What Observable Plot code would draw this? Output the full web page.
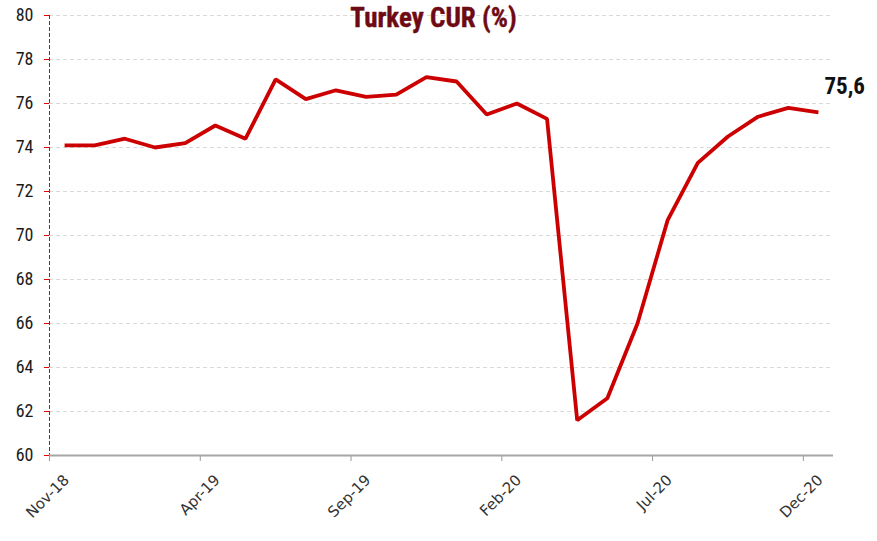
<!DOCTYPE html>
<html>
<head>
<meta charset="utf-8">
<script src="https://cdn.jsdelivr.net/npm/d3@7"></script>
<script src="https://cdn.jsdelivr.net/npm/@observablehq/plot@0.6"></script>
<style>
  html, body { margin: 0; padding: 0; background: #fff; }
  #chart { width: 877px; height: 541px; }
</style>
</head>
<body>
<div id="chart"></div>
<script>
const title = "Turkey CUR (%)";
const months = ["Nov-18","Dec-18","Jan-19","Feb-19","Mar-19","Apr-19","May-19","Jun-19","Jul-19","Aug-19","Sep-19","Oct-19","Nov-19","Dec-19","Jan-20","Feb-20","Mar-20","Apr-20","May-20","Jun-20","Jul-20","Aug-20","Sep-20","Oct-20","Nov-20","Dec-20"];
const values = [74.1, 74.1, 74.4, 74.0, 74.2, 75.0, 74.4, 77.1, 76.2, 76.6, 76.3, 76.4, 77.2, 77.0, 75.5, 76.0, 75.3, 61.6, 62.6, 66.0, 70.7, 73.3, 74.5, 75.4, 75.8, 75.6];
const tickLabels = ["Nov-18", "Apr-19", "Sep-19", "Feb-20", "Jul-20", "Dec-20"];
const yTicks = [60, 62, 64, 66, 68, 70, 72, 74, 76, 78, 80];
const lastLabel = "75,6";

const data = months.map((m, i) => ({month: m, idx: i, value: values[i]}));
const tickData = tickLabels.map(l => ({label: l, idx: months.indexOf(l)}));
const last = data[data.length - 1];

const narrow = "'Liberation Sans Narrow', 'Arial Narrow', 'Roboto Condensed', sans-serif";

const chart = Plot.plot({
  width: 877,
  height: 541,
  marginLeft: 49,
  marginRight: 44,
  marginTop: 15,
  marginBottom: 86,
  x: {type: "linear", domain: [0, months.length], axis: null},
  y: {domain: [60, 80], axis: null},
  style: {background: "#fff"},
  marks: [
    Plot.gridY(yTicks.filter(t => t > 60), {stroke: "#d9d9d9", strokeOpacity: 1, strokeDasharray: "4,3", strokeWidth: 1}),
    Plot.axisY({ticks: yTicks, tickSize: 5, tickPadding: 11, stroke: "#e00000", fill: "#1a1a1a",
      fontSize: 18, fontFamily: narrow, label: null}),
    Plot.ruleX([0], {stroke: "#e60000", strokeDasharray: "4,2", strokeWidth: 1}),
    Plot.axisX({ticks: tickData.map(d => d.idx), tickSize: 6, stroke: "#999", tickFormat: () => "", label: null}),
    Plot.ruleY([60], {stroke: "#a6a6a6", strokeWidth: 2}),
    Plot.text(tickData, {x: "idx", text: "label", frameAnchor: "bottom", rotate: -45, textAnchor: "end",
      lineAnchor: "middle", dx: 17, dy: 22, fontSize: 15, fontFamily: "'DejaVu Sans', Verdana, sans-serif", fill: "#333"}),
    Plot.line(data, {x: d => d.idx + 0.5, y: "value", stroke: "#cc0000", strokeWidth: 3.8, strokeLinejoin: "miter", strokeLinecap: "butt"}),
    Plot.text([last], {x: d => d.idx + 0.5, y: "value", text: () => lastLabel, textAnchor: "start", lineAnchor: "middle",
      dx: 6, dy: -26, fontSize: 23, fontWeight: "bold", fontFamily: narrow, fill: "#111"}),
    Plot.text([title], {frameAnchor: "top", lineAnchor: "middle", dx: -8, dy: 3, fontSize: 27, fontWeight: "bold",
      fontFamily: narrow, fill: "#6e0a14", stroke: "#6e0a14", strokeWidth: 0.4})
  ]
});
document.getElementById("chart").appendChild(chart);
</script>
</body>
</html>
